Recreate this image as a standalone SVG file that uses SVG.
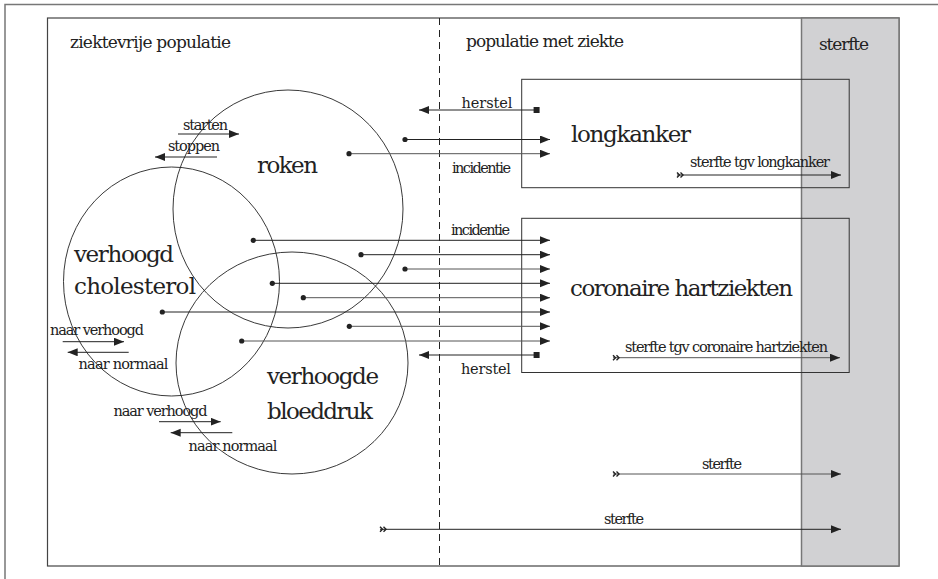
<svg xmlns="http://www.w3.org/2000/svg" width="938" height="579" viewBox="0 0 938 579">
<defs>
<marker id="ah" markerUnits="userSpaceOnUse" markerWidth="11" markerHeight="9" refX="10" refY="4" orient="auto"><path d="M0,0 L10,4 L0,8 z" fill="#222"/></marker>
<marker id="dot" markerUnits="userSpaceOnUse" markerWidth="7" markerHeight="7" refX="3.5" refY="3.5" orient="auto"><circle cx="3.5" cy="3.5" r="2.6" fill="#222"/></marker>
<marker id="sq" markerUnits="userSpaceOnUse" markerWidth="8" markerHeight="8" refX="4" refY="4" orient="auto"><rect x="1" y="1" width="6" height="6" fill="#222"/></marker>
<marker id="src" markerUnits="userSpaceOnUse" markerWidth="10" markerHeight="8" refX="1" refY="4" orient="auto"><path d="M1,1.5 L3.5,4 L1,6.5 M4.5,1.5 L7,4 L4.5,6.5" fill="none" stroke="#222" stroke-width="1.4"/></marker>
</defs>
<style>
.frame{fill:none;stroke:#444;stroke-width:1.2}
.outer{fill:none;stroke:#777;stroke-width:1.5}
.box{fill:none;stroke:#333;stroke-width:1}
.circ{fill:none;stroke:#222;stroke-width:0.9}
.c{stroke:#222;stroke-width:1;fill:none}
.g{stroke:#555;stroke-width:1;fill:none}
.arr{marker-end:url(#ah)}
.t{font-family:"DejaVu Serif","Liberation Serif",serif;fill:#222}
.big{font-size:23px}
.hd{font-size:17px}
.sm{font-size:14.5px}
</style>
<rect class="outer" x="5" y="4.5" width="960" height="600"/>
<rect class="frame" x="47.5" y="18" width="851.5" height="548"/>
<g id="sterfte-zone">
<rect x="801.5" y="18" width="97.5" height="548" fill="#d1d1d3" stroke="#777" stroke-width="1.5"/>
<text class="t hd" x="819" y="50" textLength="50" fill="#333">sterfte</text>
</g>
<line x1="439.5" y1="18" x2="439.5" y2="566" stroke="#222" stroke-width="1" stroke-dasharray="7,5"/>
<text class="t hd" x="70" y="48" textLength="161">ziektevrije populatie</text>
<text class="t hd" x="466" y="47" textLength="158">populatie met ziekte</text>
<g id="roken">
<ellipse class="circ" cx="288" cy="209" rx="115" ry="119"/>
<text class="t big" x="257" y="173" textLength="61">roken</text>
</g>
<g id="cholesterol">
<ellipse class="circ" cx="171.5" cy="281.5" rx="108" ry="114.5"/>
<text class="t big" x="74" y="261.5" textLength="100">verhoogd</text>
<text class="t big" x="74" y="293.5" textLength="122">cholesterol</text>
</g>
<g id="bloeddruk">
<ellipse class="circ" cx="292" cy="363" rx="116" ry="111"/>
<text class="t big" x="267" y="384" textLength="112">verhoogde</text>
<text class="t big" x="267" y="418.5" textLength="106">bloeddruk</text>
</g>
<g id="longkanker">
<rect class="box" x="521.7" y="79.3" width="327.5" height="108.4"/>
<text class="t big" x="571" y="142" textLength="120">longkanker</text>
</g>
<g id="coronaire">
<rect class="box" x="521.7" y="218.3" width="327.5" height="154.2"/>
<text class="t big" x="570" y="295.5" textLength="223">coronaire hartziekten</text>
</g>
<g id="labels">
<text class="t sm" x="183" y="130" textLength="45">starten</text>
<text class="t sm" x="168" y="151" textLength="52">stoppen</text>
<text class="t sm" x="461.5" y="108" textLength="51">herstel</text>
<text class="t sm" x="452" y="173" textLength="59">incidentie</text>
<text class="t sm" x="690" y="167" textLength="140">sterfte tgv longkanker</text>
<text class="t sm" x="451" y="234.5" textLength="59">incidentie</text>
<text class="t sm" x="461" y="374" textLength="50">herstel</text>
<text class="t sm" x="625" y="352" textLength="203">sterfte tgv coronaire hartziekten</text>
<text class="t sm" x="50" y="334.5" textLength="94">naar verhoogd</text>
<text class="t sm" x="78.5" y="368.5" textLength="90">naar normaal</text>
<text class="t sm" x="113.5" y="416" textLength="94">naar verhoogd</text>
<text class="t sm" x="188.5" y="451" textLength="89">naar normaal</text>
<text class="t sm" x="702" y="468.5" textLength="40" fill="#444">sterfte</text>
<text class="t sm" x="604" y="524" textLength="40" fill="#444">sterfte</text>
</g>
<g id="connectors">
<line class="c arr" x1="178" y1="134" x2="239" y2="134"/>
<line class="c arr" x1="217" y1="157" x2="155" y2="157"/>
<line class="c arr" x1="62.7" y1="341.7" x2="124" y2="341.7"/>
<line class="c arr" x1="128.7" y1="352.3" x2="67.7" y2="352.3"/>
<line class="c arr" x1="159" y1="421.7" x2="220.7" y2="421.7"/>
<line class="c arr" x1="232.3" y1="432.7" x2="170.7" y2="432.7"/>
<line class="c arr" x1="536.6" y1="110" x2="419" y2="110" marker-start="url(#sq)"/>
<line class="c arr" x1="405" y1="139.5" x2="550" y2="139.5" marker-start="url(#dot)"/>
<line class="g arr" x1="349" y1="153.7" x2="550" y2="153.7" marker-start="url(#dot)"/>
<line class="c arr" x1="253.3" y1="240.3" x2="550" y2="240.3" marker-start="url(#dot)"/>
<line class="c arr" x1="361" y1="254.7" x2="550" y2="254.7" marker-start="url(#dot)"/>
<line class="g arr" x1="405" y1="269" x2="550" y2="269" marker-start="url(#dot)"/>
<line class="c arr" x1="272.3" y1="283.3" x2="550" y2="283.3" marker-start="url(#dot)"/>
<line class="g arr" x1="303.3" y1="297.7" x2="550" y2="297.7" marker-start="url(#dot)"/>
<line class="c arr" x1="162.3" y1="312" x2="550" y2="312" marker-start="url(#dot)"/>
<line class="g arr" x1="349.3" y1="326.3" x2="550" y2="326.3" marker-start="url(#dot)"/>
<line class="g arr" x1="241.7" y1="341" x2="550" y2="341" marker-start="url(#dot)"/>
<line class="c arr" x1="536.6" y1="355" x2="419" y2="355" marker-start="url(#sq)"/>
<line class="c arr" x1="677" y1="175" x2="841" y2="175" marker-start="url(#src)"/>
<line class="g arr" x1="613" y1="357.7" x2="840" y2="357.7" marker-start="url(#src)"/>
<line class="g arr" x1="613" y1="474" x2="841" y2="474" marker-start="url(#src)"/>
<line class="c arr" x1="380" y1="529.3" x2="841" y2="529.3" marker-start="url(#src)"/>
</g>
</svg>
